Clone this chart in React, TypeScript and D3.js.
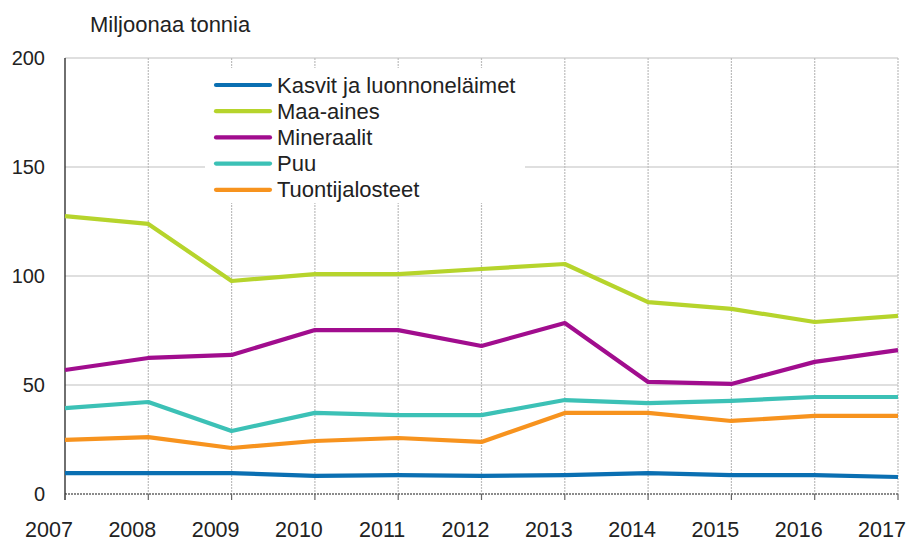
import * as d3 from 'd3';
import { useRef, useEffect } from 'react';

const years = [2007, 2008, 2009, 2010, 2011, 2012, 2013, 2014, 2015, 2016, 2017];
const kasvit = [9.6, 9.6, 9.6, 8.3, 8.7, 8.3, 8.7, 9.6, 8.7, 8.7, 7.8];
const maaAines = [127.5, 123.9, 97.7, 100.9, 100.9, 103.2, 105.5, 88, 84.9, 78.9, 81.7];
const mineraalit = [56.9, 62.4, 63.8, 75.2, 75.2, 67.9, 78.4, 51.4, 50.5, 60.6, 66];
const puu = [39.4, 42.2, 28.9, 37.2, 36.2, 36.2, 43.1, 41.7, 42.7, 44.5, 44.5];
const tuonti = [24.8, 26.1, 21.1, 24.3, 25.7, 23.9, 37.2, 37.2, 33.5, 35.8, 35.8];
const yTicks = [0, 50, 100, 150, 200];

const series = [
  { name: 'Kasvit ja luonnoneläimet', values: kasvit, color: '#0a6fb2' },
  { name: 'Maa-aines', values: maaAines, color: '#b6d42c' },
  { name: 'Mineraalit', values: mineraalit, color: '#a10d8e' },
  { name: 'Puu', values: puu, color: '#3cc1b6' },
  { name: 'Tuontijalosteet', values: tuonti, color: '#f7931e' },
];

const App = () => {
  const svgRef = useRef<SVGSVGElement>(null);

  useEffect(() => {
    const svg = d3.select(svgRef.current);
    const width = 908;
    const height = 541;
    const margin = { top: 58, right: 10, bottom: 47, left: 65 };
    const font = '"Liberation Sans", Arial, sans-serif';

    svg.selectAll('*').remove();

    const x = d3.scaleLinear()
      .domain([2007, 2017])
      .range([margin.left, width - margin.right]);

    const y = d3.scaleLinear()
      .domain([0, 200])
      .range([height - margin.bottom, margin.top]);

    // horizontal gridlines
    svg.append('g')
      .selectAll('line')
      .data(yTicks.filter(d => d > 0))
      .enter().append('line')
      .attr('x1', margin.left)
      .attr('x2', width - margin.right)
      .attr('y1', d => y(d))
      .attr('y2', d => y(d))
      .attr('stroke', '#d4d4d4')
      .attr('stroke-width', 1.3);

    // vertical gridlines (fine dotted)
    svg.append('g')
      .selectAll('line')
      .data(years.slice(1))
      .enter().append('line')
      .attr('x1', d => x(d))
      .attr('x2', d => x(d))
      .attr('y1', y(200))
      .attr('y2', y(0))
      .attr('stroke', '#bdbdbd')
      .attr('stroke-width', 1.2)
      .attr('stroke-dasharray', '2,1');

    // axes
    svg.append('line')
      .attr('x1', margin.left)
      .attr('x2', width - margin.right)
      .attr('y1', y(0))
      .attr('y2', y(0))
      .attr('stroke', '#666')
      .attr('stroke-width', 1.3)
      .attr('stroke-dasharray', '2,1');

    svg.append('line')
      .attr('x1', margin.left)
      .attr('x2', margin.left)
      .attr('y1', y(200))
      .attr('y2', y(0) + 6)
      .attr('stroke', '#222')
      .attr('stroke-width', 1.3);

    svg.append('g')
      .selectAll('line')
      .data(years)
      .enter().append('line')
      .attr('x1', d => x(d))
      .attr('x2', d => x(d))
      .attr('y1', y(0))
      .attr('y2', y(0) + 6)
      .attr('stroke', '#666')
      .attr('stroke-width', 1.2);

    svg.append('g')
      .selectAll('text')
      .data(yTicks)
      .enter().append('text')
      .attr('x', 45)
      .attr('y', d => y(d) + 7)
      .attr('text-anchor', 'end')
      .style('font-family', font)
      .style('font-size', '20px')
      .attr('fill', '#222')
      .text(d => d);

    // year labels sit a little left of their ticks, as in the original
    svg.append('g')
      .selectAll('text')
      .data(years)
      .enter().append('text')
      .attr('x', d => x(d) - 16)
      .attr('y', 537)
      .attr('text-anchor', 'middle')
      .style('font-family', font)
      .style('font-size', '21.5px')
      .attr('fill', '#222')
      .text(d => d);

    svg.append('text')
      .attr('x', 90)
      .attr('y', 32)
      .style('font-family', font)
      .style('font-size', '22px')
      .attr('fill', '#222')
      .text('Miljoonaa tonnia');

    const line = d3.line<number>()
      .x((d, i) => x(years[i]))
      .y(d => y(d));

    // legend background
    svg.append('rect')
      .attr('x', 205)
      .attr('y', 68)
      .attr('width', 320)
      .attr('height', 135)
      .attr('fill', '#fff');

    svg.append('g')
      .selectAll('path')
      .data(series)
      .enter().append('path')
      .attr('d', d => line(d.values))
      .attr('fill', 'none')
      .attr('stroke', d => d.color)
      .attr('stroke-width', 4.2)
      .attr('stroke-linejoin', 'round');

    const legend = svg.append('g');
    series.forEach((s, i) => {
      const ly = 85 + i * 26.2;
      legend.append('line')
        .attr('x1', 216)
        .attr('x2', 270)
        .attr('y1', ly)
        .attr('y2', ly)
        .attr('stroke', s.color)
        .attr('stroke-width', 4.2)
        .attr('stroke-linecap', 'round');
      legend.append('text')
        .attr('x', 277)
        .attr('y', ly + 7.5)
        .style('font-family', font)
        .style('font-size', '22px')
        .attr('fill', '#222')
        .text(s.name);
    });
  }, []);

  return (
    <div style={{ position: 'fixed', left: 0, top: 0, width: 908, height: 541, overflow: 'hidden', background: '#fff' }}>
      <svg ref={svgRef} width={908} height={541} style={{ display: 'block' }}></svg>
    </div>
  );
};

export default App;
